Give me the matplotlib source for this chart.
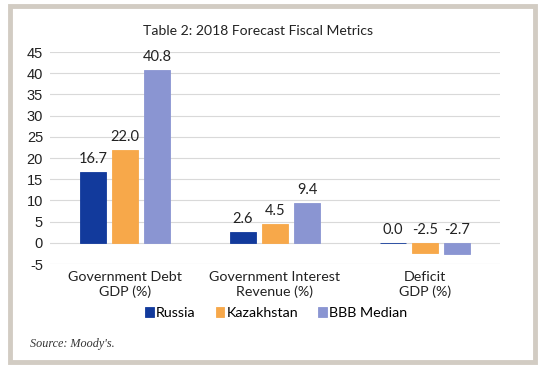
import numpy as np
import matplotlib
matplotlib.use("Agg")
import matplotlib.pyplot as plt
from matplotlib.patches import Rectangle

categories = ["Government Debt\nGDP (%)", "Government Interest\nRevenue (%)", "Deficit\nGDP (%)"]
series = ["Russia", "Kazakhstan", "BBB Median"]
russia = [16.7, 2.6, 0.0]
kazakhstan = [22.0, 4.5, -2.5]
bbb_median = [40.8, 9.4, -2.7]
colors = ["#123a9c", "#f7a84a", "#8a95d2"]

plt.rcParams['font.family'] = ['Lato', 'DejaVu Sans']
plt.rcParams['axes.unicode_minus'] = False

fig = plt.figure(figsize=(5.42, 3.69), dpi=100)
fig.patch.set_facecolor("white")

# frame around the panel
fig.patches.append(Rectangle((10/542, 1-362/369), 525/542, 356/369, transform=fig.transFigure,
                             fill=False, edgecolor="#d2ccc3", linewidth=3.5))

ax = fig.add_axes([50/542, 1-264/369, 450/542, 212/369])
x = np.arange(len(categories))
step = 0.213
width = 0.175
for i, (name, vals) in enumerate(zip(series, [russia, kazakhstan, bbb_median])):
    pos = x + (i - 1) * step
    ax.bar(pos, vals, width=width, color=colors[i], edgecolor=colors[i], linewidth=0.6,
           label=name, zorder=3)
    for p, v in zip(pos, vals):
        ax.annotate(f"{v:.1f}", (p, max(v, 0)), xytext=(0, 4), textcoords="offset points",
                    ha="center", va="bottom", fontsize=10.5, color="#222222")

ax.set_xlim(-0.5, 2.5)
ax.set_ylim(-5, 45)
ax.set_yticks(range(-5, 50, 5))
ax.yaxis.grid(True, color="#d9d9d9", linewidth=0.8, zorder=0)
for s in ax.spines.values():
    s.set_visible(False)
ax.tick_params(axis="both", length=0, colors="#222222")
ax.tick_params(axis="y", pad=5, labelsize=10.5)
for lab in ax.get_yticklabels():
    lab.set_family("Liberation Sans")
ax.set_xticks(x)
ax.set_xticklabels(categories, fontsize=10.3, linespacing=1.2)
ax.tick_params(axis="x", pad=5)

fig.text(258/542, 1-31/369, "Table 2: 2018 Forecast Fiscal Metrics", ha="center", va="center",
         fontsize=10.1, color="#222222")

ax.legend(loc="center", bbox_to_anchor=(276/542, 1-313/369), bbox_transform=fig.transFigure,
          ncol=3, frameon=False, fontsize=10.3, handlelength=0.6, handleheight=0.7,
          handletextpad=0.15, columnspacing=1.4)

fig.text(30/542, 1-344/369, "Source: Moody's.", ha="left", va="center", fontsize=8.7,
         family="Liberation Serif", style="italic", color="#333333")

fig.savefig("out.png", dpi=100)
